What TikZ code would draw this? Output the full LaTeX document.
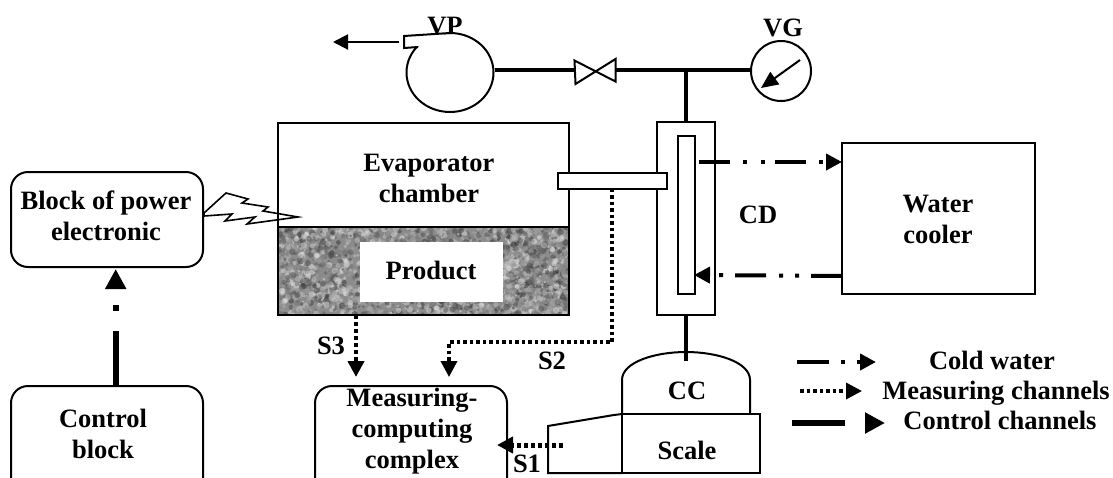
\documentclass[tikz,border=0pt]{standalone}
\usepackage{fontspec}
\setmainfont{Liberation Serif}
\usetikzlibrary{arrows.meta,shapes.geometric}
\tikzset{
  ln/.style={line width=2pt,draw=black},
  box/.style={ln,rectangle,inner sep=0pt},
  rbox/.style={ln,rectangle,rounded corners=17pt,inner sep=0pt},
  pipe/.style={line width=3.5pt,draw=black},
  txt/.style={font=\bfseries\fontsize{26.5}{31}\selectfont,inner sep=0pt,anchor=base,align=center,text=black},
  tipS/.style={-{Triangle[length=16pt,width=16pt]}},
  tipL/.style={-{Triangle[length=20pt,width=20pt]}},
  meas/.style={line width=3.5pt,dash pattern=on 3.5pt off 3pt,tipS},
  measB/.style={line width=4pt,dash pattern=on 4pt off 3pt,tipS},
  cold/.style={line width=4pt,tipS},
}
\begin{document}
\begin{tikzpicture}[x=1pt,y=-1pt]
\useasboundingbox (0,0) rectangle (1113,477);
\clip (0,0) rectangle (1113,477);
% noise texture
\begin{scope}
\clip (278,227) rectangle (569,315);
\fill[black!45] (278,227) rectangle (569,315);
\pgfmathsetseed{4711}
\foreach \i in {1,...,3000}{
  \pgfmathsetmacro\px{278+291*rnd}
  \pgfmathsetmacro\py{227+88*rnd}
  \pgfmathsetmacro\pr{1.0+2.4*rnd}
  \pgfmathsetmacro\pg{8+72*rnd}
  \fill[black!\pg,opacity=.5] (\px,\py) circle[radius=\pr pt];
}
\end{scope}
\node[fill=white,inner sep=0pt,minimum width=143pt,minimum height=60pt] (prodbg) at (431.5,272) {};
% boxes
\node[box,minimum width=291pt,minimum height=104pt] (evap) at (423.5,175) {};
\node[box,minimum width=291pt,minimum height=88pt] (prod) at (423.5,271) {};
\node[box,minimum width=58pt,minimum height=193pt] (cd) at (686,218.5) {};
\node[box,fill=white,minimum width=17pt,minimum height=158pt] (cdin) at (686.5,215) {};
\node[box,fill=white,minimum width=109.5pt,minimum height=15.5pt] (tube) at (612.25,180.75) {};
\node[box,minimum width=193pt,minimum height=151pt] (cooler) at (938.5,218.5) {};
\node[rbox,minimum width=192pt,minimum height=95pt] (power) at (107,219.5) {};
\node[rbox,minimum width=192pt,minimum height=110pt] (ctrl) at (107,441) {};
\node[rbox,minimum width=192pt,minimum height=110pt] (mcc) at (411,441) {};
% pump
\node[ln,ellipse,inner sep=0pt,minimum width=87pt,minimum height=79pt] (pump) at (450,72.5) {};
\fill[white] (451,31) -- (404,34) -- (405,47) -- (418,46.5) -- cycle;
\draw[ln,line join=miter] (450,33) -- (404,36) -- (404,48) -- (418,47);
\coordinate (out1) at (399,42);
\coordinate (out2) at (333,42);
\draw[line width=2pt,-{Triangle[length=15pt,width=15pt]}] (out1) -- (out2);
% vacuum line
\coordinate (j) at (686,70);
\coordinate (vL) at (574,70);
\coordinate (vR) at (616,70);
\node[ln,circle,inner sep=0pt,minimum size=60pt] (vg) at (781,71) {};
\draw[pipe] (j -| pump.east) -- (vL);
\draw[pipe] (vR) -- (vg.west |- j);
\draw[pipe] (j) -- (cd.north);
\draw[ln,line join=miter] (574.5,60.5) -- (575.5,84) -- (615.5,59) -- (615.5,81.5) -- cycle;
\coordinate (vg1) at (800,60);
\coordinate (vg2) at (761,88);
\draw[line width=2pt,-{Triangle[length=17pt,width=15pt]}] (vg1) -- (vg2);
% CC and scale
\node[box,minimum width=138pt,minimum height=59pt] (scale) at (691,443.5) {};
\coordinate (dt) at (686,361);
\draw[ln] (622,414) -- (622,380) .. controls (622,362) and (655,352) .. (686,352) .. controls (717,352) and (750,362) .. (750,380) -- (750,414);
\draw[line width=4pt] (cd.south) -- (dt);
\draw[ln,line join=miter] (622,414) -- (614,415) -- (548,426) -- (548,473) -- (622,473);
% lightning
\draw[ln,line width=1.6pt,line join=miter] (204,213) -- (226,193) -- (248,199) -- (242,203) -- (268,207) -- (263,211) -- (298,217) -- (247,224) -- (255,217) -- (225,221) -- (232,214) -- (204,216) -- cycle;
% control arrow
\coordinate (ctop) at (115.7,269);
\draw[line width=6pt,dash pattern=on 54pt off 20pt on 6pt off 40pt,tipL] (ctrl.north -| ctop) -- (ctop);
% measuring channels
\coordinate (s3a) at (356,315);
\coordinate (s3b) at (356,377);
\draw[measB] (s3a) -- (s3b);
\coordinate (s2a) at (612,188.5);
\coordinate (s2m) at (612,342);
\coordinate (s2n) at (449,342);
\coordinate (s2b) at (449,377);
\draw[meas] (s2a) -- (s2m) -- (s2n) -- (s2b);
\coordinate (s1a) at (563,445);
\coordinate (s1b) at (497,445);
\draw[measB,line width=5pt] (s1a) -- (s1b);
% cold water
\coordinate (c1a) at (699,162);
\coordinate (c1b) at (842,162);
\draw[cold,dash pattern=on 31pt off 13pt on 4pt off 14pt on 4pt off 10pt] (c1a) -- (c1b);
\coordinate (c2a) at (842,276);
\coordinate (c2b) at (694,275);
\draw[cold,dash pattern=on 31pt off 12pt on 4pt off 12pt on 4pt off 13pt] (c2a) -- (c2b);
% legend
\coordinate (l1a) at (797,362);
\coordinate (l1b) at (876,362);
\draw[cold,dash pattern=on 32pt off 12pt on 4pt off 12pt on 19pt off 40pt] (l1a) -- (l1b);
\coordinate (l2a) at (800,391);
\coordinate (l2b) at (862,391);
\draw[meas] (l2a) -- (l2b);
\coordinate (l3a) at (792,423);
\coordinate (l3b) at (885,423);
\draw[line width=6pt,dash pattern=on 53pt off 100pt,tipL] (l3a) -- (l3b);
% text
\node[txt] (tvp) at (445,34) {VP};
\node[txt] (tvg) at (783,36) {VG};
\node[txt] (tpow) at (106,240) {Block of power\\electronic};
\node[txt] (tctl) at (103,458) {Control\\block};
\node[txt] (tevap) at (429,202) {Evaporator\\chamber};
\node[txt] (tprod) at (431,279) {Product};
\node[txt] (tcd) at (758,223) {CD};
\node[txt] (tcool) at (938,243) {Water\\cooler};
\node[txt] (tmcc) at (412,468) {Measuring-\\computing\\complex};
\node[txt] (ts3) at (331,354) {S3};
\node[txt] (ts2) at (552,369) {S2};
\node[txt] (ts1) at (527,472) {S1};
\node[txt] (tcc) at (687,399) {CC};
\node[txt] (tsc) at (687,459) {Scale};
\node[txt] (tl1) at (992,369) {Cold water};
\node[txt] (tl2) at (996,399) {Measuring channels};
\node[txt] (tl3) at (1000,429) {Control channels};
\end{tikzpicture}
\end{document}
